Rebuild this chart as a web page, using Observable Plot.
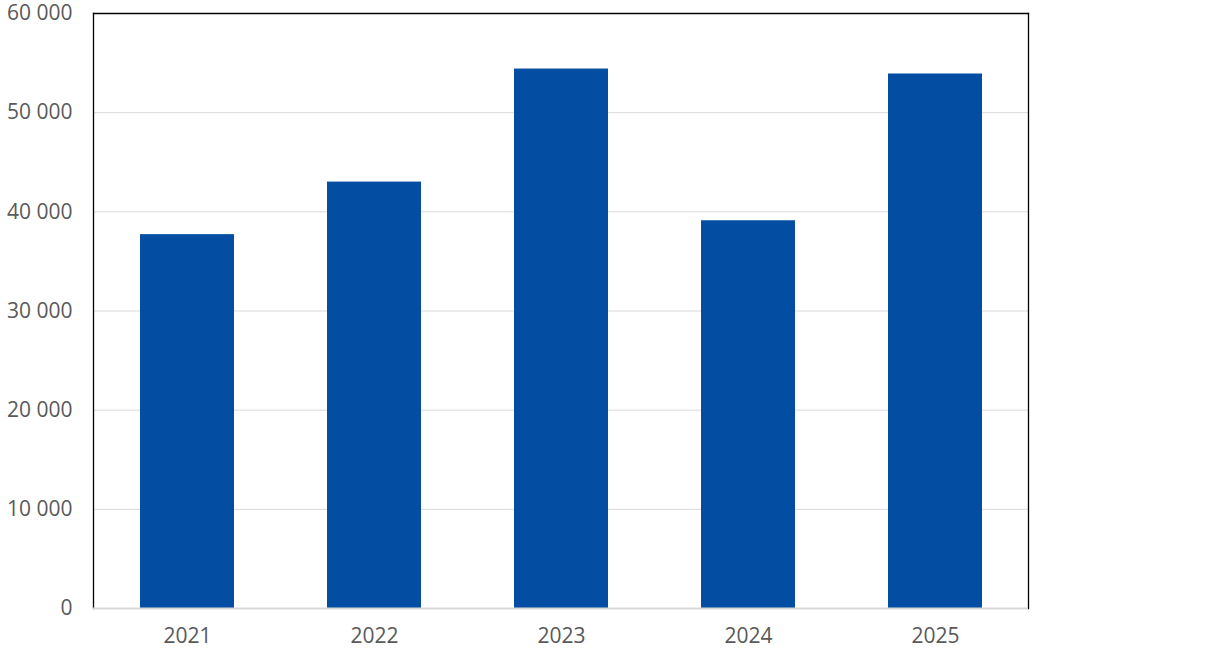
<!DOCTYPE html>
<html>
<head>
<meta charset="utf-8">
<script src="https://cdn.jsdelivr.net/npm/d3@7"></script>
<script src="https://cdn.jsdelivr.net/npm/@observablehq/plot@0.6"></script>
<style>
  html, body { margin: 0; padding: 0; background: #fff; }
  #chart { width: 1227px; height: 649px; }
</style>
</head>
<body>
<div id="chart"></div>
<script>
const years = ["2021", "2022", "2023", "2024", "2025"];
const values = [37700, 43000, 54400, 39100, 53900];
const yTicks = [0, 10000, 20000, 30000, 40000, 50000, 60000];

const data = years.map((y, i) => ({year: y, value: values[i]}));
const fmt = d => d3.format(",")(d).replace(/,/g, " ");

const chart = Plot.plot({
  width: 1227,
  height: 649,
  marginLeft: 93,
  marginRight: 199,
  marginTop: 13,
  marginBottom: 41,
  style: {fontFamily: "'Open Sans', sans-serif", fontSize: "21px", color: "#595959", background: "#fff"},
  x: {domain: years, paddingInner: 0.5, paddingOuter: 0.25, label: null, tickSize: 0, tickPadding: 20},
  y: {domain: [0, 60000], ticks: yTicks, tickFormat: fmt, label: null, tickSize: 0, tickPadding: 21},
  marks: [
    Plot.ruleY(yTicks.filter(d => d > 0 && d < 60000), {stroke: "#d9d9d9", strokeWidth: 1}),
    Plot.barY(data, {x: "year", y: "value", fill: "#034ea2"}),
    Plot.frame({anchor: "top", stroke: "#000", strokeWidth: 1.3}),
    Plot.frame({anchor: "left", stroke: "#000", strokeWidth: 1.3}),
    Plot.frame({anchor: "right", stroke: "#000", strokeWidth: 1.3}),
    Plot.ruleY([0], {stroke: "#d9d9d9", strokeWidth: 2})
  ]
});
chart.querySelectorAll("text").forEach(t => t.setAttribute("fill", "#595959"));
document.getElementById("chart").appendChild(chart);
</script>
</body>
</html>
